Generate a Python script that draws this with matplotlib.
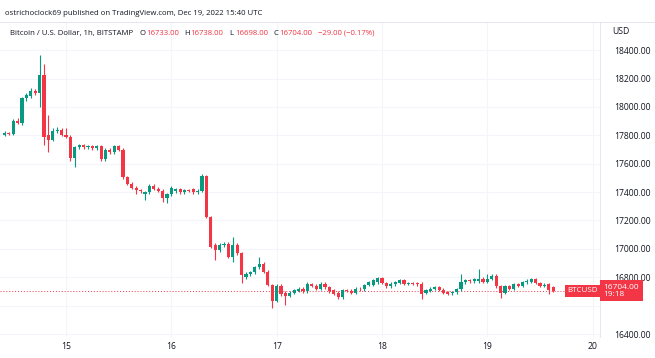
import matplotlib.pyplot as plt
import numpy as np

# hourly BTCUSD candles, Dec 14 10:00 UTC -> Dec 19 15:00 UTC
opens = [17805, 17815, 17810, 17900, 17885, 18060, 18075, 18110, 18095, 18225,
         17800, 17770, 17830, 17840, 17805, 17790, 17640, 17715, 17730, 17715,
         17725, 17712, 17722, 17630, 17700, 17680, 17725, 17700, 17505, 17460,
         17430, 17415, 17385, 17400, 17445, 17425, 17410, 17360, 17385, 17405,
         17420, 17400, 17415, 17420, 17400, 17410, 17510, 17225, 17030, 16990,
         17025, 17035, 16945, 17030, 16970, 16800, 16820, 16835, 16870, 16895,
         16840, 16745, 16635, 16740, 16690, 16670, 16690, 16705, 16718, 16700,
         16750, 16740, 16720, 16755, 16730, 16710, 16690, 16660, 16710, 16705,
         16690, 16720, 16715, 16745, 16745, 16765, 16795, 16760, 16735, 16750,
         16760, 16780, 16755, 16760, 16760, 16755, 16690, 16705, 16720, 16730,
         16712, 16695, 16688, 16695, 16715, 16765, 16780, 16772, 16772, 16785,
         16770, 16790, 16810, 16735, 16690, 16735, 16720, 16750, 16740, 16765,
         16770, 16785, 16760, 16740, 16750, 16733]
highs = [17830, 17825, 17915, 17920, 18070, 18100, 18130, 18125, 18365, 18300,
         17945, 17850, 17860, 17855, 17850, 17800, 17725, 17740, 17740, 17735,
         17735, 17730, 17730, 17710, 17710, 17735, 17735, 17710, 17515, 17470,
         17440, 17425, 17410, 17455, 17455, 17435, 17420, 17395, 17440, 17430,
         17430, 17425, 17425, 17430, 17420, 17530, 17520, 17235, 17040, 17040,
         17045, 17045, 17085, 17040, 16980, 16835, 16845, 16880, 16940, 16905,
         16850, 16755, 16750, 16750, 16700, 16700, 16720, 16730, 16728, 16770,
         16760, 16750, 16765, 16765, 16740, 16720, 16700, 16720, 16720, 16715,
         16730, 16730, 16755, 16775, 16790, 16805, 16805, 16770, 16765, 16775,
         16790, 16790, 16770, 16770, 16770, 16765, 16720, 16730, 16740, 16740,
         16722, 16705, 16705, 16725, 16820, 16790, 16790, 16795, 16860, 16800,
         16820, 16820, 16820, 16745, 16745, 16745, 16760, 16760, 16775, 16785,
         16795, 16795, 16770, 16760, 16760, 16738]
lows = [17795, 17800, 17805, 17880, 17875, 18045, 18065, 18085, 18000, 17730,
        17680, 17760, 17815, 17795, 17780, 17620, 17580, 17705, 17705, 17705,
        17700, 17700, 17620, 17620, 17670, 17670, 17690, 17495, 17450, 17420,
        17390, 17395, 17345, 17390, 17415, 17400, 17330, 17320, 17375, 17395,
        17390, 17390, 17400, 17390, 17390, 17400, 17215, 17005, 16920, 16980,
        17010, 16935, 16905, 16960, 16760, 16790, 16810, 16825, 16860, 16830,
        16735, 16585, 16625, 16670, 16605, 16660, 16680, 16695, 16690, 16690,
        16730, 16710, 16710, 16720, 16690, 16675, 16650, 16650, 16695, 16680,
        16680, 16705, 16705, 16735, 16735, 16755, 16750, 16725, 16725, 16740,
        16750, 16745, 16745, 16745, 16740, 16650, 16680, 16695, 16710, 16700,
        16680, 16675, 16678, 16685, 16705, 16755, 16762, 16762, 16762, 16760,
        16760, 16780, 16725, 16655, 16680, 16710, 16710, 16730, 16730, 16755,
        16760, 16750, 16730, 16730, 16680, 16698]
closes = [17815, 17810, 17900, 17885, 18060, 18085, 18110, 18095, 18225, 17790,
          17770, 17830, 17840, 17805, 17790, 17640, 17715, 17730, 17715, 17725,
          17712, 17722, 17630, 17700, 17680, 17725, 17700, 17505, 17460, 17430,
          17415, 17405, 17400, 17445, 17425, 17410, 17360, 17385, 17430, 17420,
          17400, 17415, 17410, 17400, 17410, 17510, 17225, 17015, 16990, 17025,
          17035, 16945, 17030, 16970, 16815, 16825, 16835, 16870, 16895, 16840,
          16745, 16630, 16740, 16680, 16670, 16690, 16710, 16718, 16700, 16750,
          16740, 16720, 16755, 16730, 16700, 16685, 16660, 16710, 16705, 16690,
          16720, 16715, 16745, 16765, 16780, 16795, 16760, 16735, 16755, 16765,
          16780, 16755, 16760, 16755, 16750, 16680, 16710, 16720, 16730, 16710,
          16690, 16685, 16695, 16715, 16770, 16780, 16772, 16785, 16785, 16770,
          16790, 16810, 16735, 16690, 16735, 16720, 16750, 16740, 16765, 16775,
          16785, 16760, 16740, 16745, 16712, 16704]

day_ticks = [14, 38, 62, 86, 110, 134]   # hours since Dec 14 10:00
day_labels = ['15', '16', '17', '18', '19', '20']
price_ticks = [16400, 16600, 16800, 17000, 17200, 17400, 17600, 17800, 18000, 18200, 18400]
last_price = 16704
ohlc_keys = ['O', 'H', 'L', 'C']
ohlc_vals = ['16733.00', '16738.00', '16698.00', '16704.00']
ohlc_x = [140, 184, 229, 273]   # pixel positions of the legend pieces

up_col = '#089981'
down_col = '#f23645'
txt_col = '#131722'

plt.rcParams['font.family'] = ['Open Sans', 'DejaVu Sans']

W, H = 655, 358
fig = plt.figure(figsize=(W / 100, H / 100), dpi=100)
ax = fig.add_axes([0.0, 0.059, 0.916, 0.879])

hours = np.arange(len(closes))
o = np.array(opens)
c = np.array(closes)
cols = [up_col if cc >= oo else down_col for oo, cc in zip(o, c)]

ax.vlines(hours, lows, highs, colors=cols, linewidth=0.8, zorder=3)
body_h = np.maximum(np.abs(c - o), 4)
ax.bar(hours, body_h, bottom=np.minimum(o, c), width=0.72, color=cols, zorder=4)

ax.set_xlim(-1.03, 135.65)
ax.set_ylim(16380, 18597)

# grid
for t in day_ticks:
    ax.axvline(t, color='#f3f5fa', linewidth=0.8, zorder=0)
for p in price_ticks:
    ax.axhline(p, color='#f3f5fa', linewidth=0.8, zorder=0)

# last price line
ax.axhline(last_price, color=down_col, linewidth=0.7, linestyle=(0, (1, 2)), zorder=2)
ax.text(0.997, last_price, 'BTCUSD', transform=ax.get_yaxis_transform(), ha='right', va='center',
        fontsize=5.8, color='white', zorder=6,
        bbox=dict(boxstyle='square,pad=0.35', fc=down_col, ec='none'))

ax.set_xticks(day_ticks)
ax.set_xticklabels(day_labels)
ax.yaxis.tick_right()
ax.set_yticks(price_ticks)
ax.set_yticklabels(['%.2f' % p if p != 16600 else '' for p in price_ticks])
ax.tick_params(axis='both', length=0, labelsize=6.2, labelcolor=txt_col)
ax.tick_params(axis='y', pad=10)
ax.tick_params(axis='x', pad=4)

for s in ['top', 'left', 'bottom']:
    ax.spines[s].set_visible(False)
ax.spines['right'].set_color('#e0e3eb')
ax.spines['right'].set_linewidth(0.6)

# price tag on the axis
ax.text(1.006, last_price, '16704.00\n19:18', transform=ax.get_yaxis_transform(), ha='left', va='center',
        fontsize=6.0, color='white', linespacing=1.1, zorder=6, clip_on=False,
        bbox=dict(boxstyle='square,pad=0.4', fc=down_col, ec='none'))

fig.text(0.934, 0.905, 'USD', fontsize=6.2, color=txt_col)

# header texts
fig.text(0.008, 0.962, 'ostrichoclock69 published on TradingView.com, Dec 19, 2022 15:40 UTC',
         fontsize=5.6, color=txt_col, va='center')
y2 = 0.907
fig.text(10 / W, y2, 'Bitcoin / U.S. Dollar, 1h, BITSTAMP', fontsize=5.6, color=txt_col, va='center')
for k, v, px in zip(ohlc_keys, ohlc_vals, ohlc_x):
    fig.text(px / W, y2, k, fontsize=5.6, color=txt_col, va='center')
    fig.text((px + 6) / W, y2, v, fontsize=5.6, color=down_col, va='center')
fig.text(318 / W, y2, '\u221229.00 (\u22120.17%)', fontsize=5.6, color=down_col, va='center')

fig.add_artist(plt.Line2D([0, 1], [0.938, 0.938], color='#e0e3eb', linewidth=0.6))

plt.savefig('out.png', dpi=100)
